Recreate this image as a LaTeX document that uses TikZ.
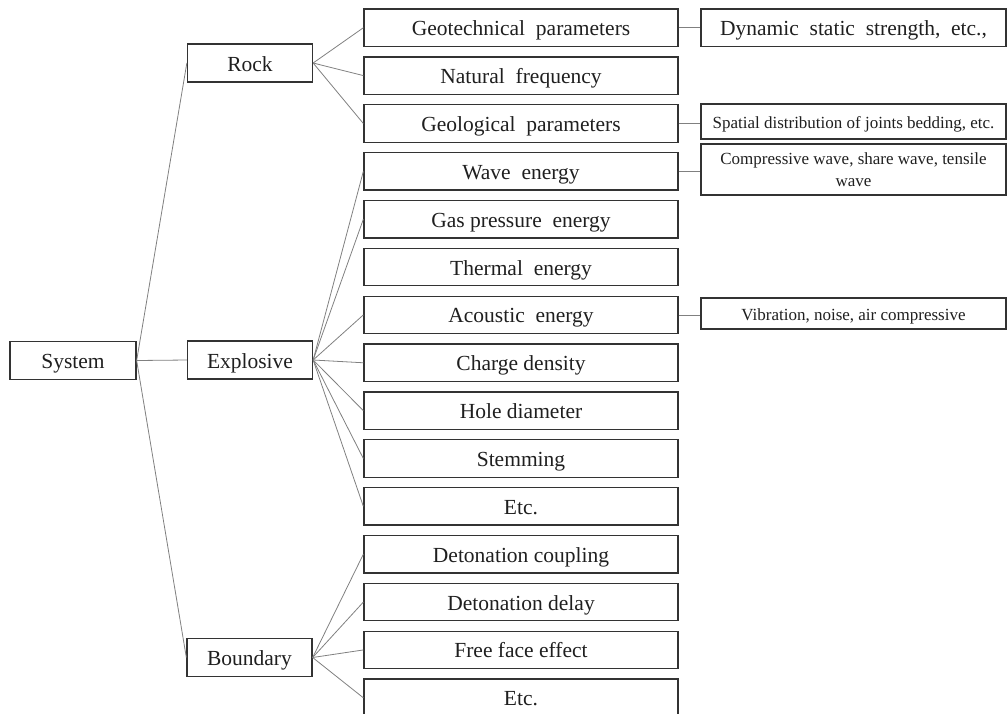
\documentclass[tikz,border=0pt]{standalone}
\usepackage{fontspec}
\setmainfont{Liberation Serif}
\begin{document}
\begin{tikzpicture}[x=1pt,y=-1pt,
  box/.style={draw=black!80,line width=1.3pt,rectangle,inner sep=0pt,text=black!88,
    font=\fontsize{21.5}{24}\selectfont},
  capc/.style={text height=#1,text depth=0pt},
  capc/.default=16pt,
  lvl/.style={box,capc,minimum width=125pt,minimum height=38pt},
  mid/.style={box,capc,minimum width=314pt,minimum height=37.5pt},
  rbox/.style={box,minimum width=305pt,font=\fontsize{17}{22}\selectfont,align=center},
  conn/.style={draw=black!50,line width=0.8pt}]
\useasboundingbox (0,0) rectangle (1008,713);
\node[lvl,minimum width=126pt] (sys) at (73,360.5) {System};
\node[lvl] (rock) at (250,63) {Rock};
\node[lvl] (expl) at (250,360) {Explosive};
\node[lvl] (bound) at (249.5,657.5) {Boundary};
\def\mx{521}
\node[mid] (m0) at (\mx,27.75) {Geotechnical\ \ parameters};
\node[mid] (m1) at (\mx,75.61) {Natural\ \ frequency};
\node[mid] (m2) at (\mx,123.47) {Geological\ \ parameters};
\node[mid] (m3) at (\mx,171.33) {Wave\ \ energy};
\node[mid] (m4) at (\mx,219.19) {Gas pressure\ \ energy};
\node[mid] (m5) at (\mx,267.05) {Thermal\ \ energy};
\node[mid] (m6) at (\mx,314.91) {Acoustic\ \ energy};
\node[mid] (m7) at (\mx,362.77) {Charge density};
\node[mid] (m8) at (\mx,410.63) {Hole diameter};
\node[mid] (m9) at (\mx,458.49) {Stemming};
\node[mid] (m10) at (\mx,506.35) {Etc.};
\node[mid] (m11) at (\mx,554.21) {Detonation coupling};
\node[mid] (m12) at (\mx,602.07) {Detonation delay};
\node[mid] (m13) at (\mx,649.93) {Free face effect};
\node[mid] (m14) at (\mx,697.79) {Etc.};
\node[rbox,capc,minimum height=37.5pt,font=\fontsize{21.5}{24}\selectfont] (r0) at (853.5,27.75) {Dynamic\ \ static\ \ strength,\ \ etc.,};
\node[rbox,capc=13pt,minimum height=35pt] (r1) at (853.5,121.5) {Spatial distribution of joints bedding, etc.};
\node[rbox,minimum height=51pt] (r2) at (853.5,169.5) {Compressive\ wave,\ share\ wave,\ tensile\\wave};
\node[rbox,capc=13pt,minimum height=31pt] (r3) at (853.5,313.5) {Vibration, noise, air compressive};
\draw[conn] (sys.east) -- (rock.west);
\draw[conn] (sys.east) -- (expl.west);
\draw[conn] (sys.east) -- (bound.west);
\foreach \i in {0,1,2} \draw[conn] (rock.east) -- (m\i.west);
\foreach \i in {3,4,6,7,8,9,10} \draw[conn] (expl.east) -- (m\i.west);
\foreach \i in {11,12,13,14} \draw[conn] (bound.east) -- (m\i.west);
\draw[conn] (m0.east) -- (r0.west |- m0.east);
\draw[conn] (m2.east) -- (r1.west |- m2.east);
\draw[conn] (m3.east) -- (r2.west |- m3.east);
\draw[conn] (m6.east) -- (r3.west |- m6.east);
\end{tikzpicture}
\end{document}
